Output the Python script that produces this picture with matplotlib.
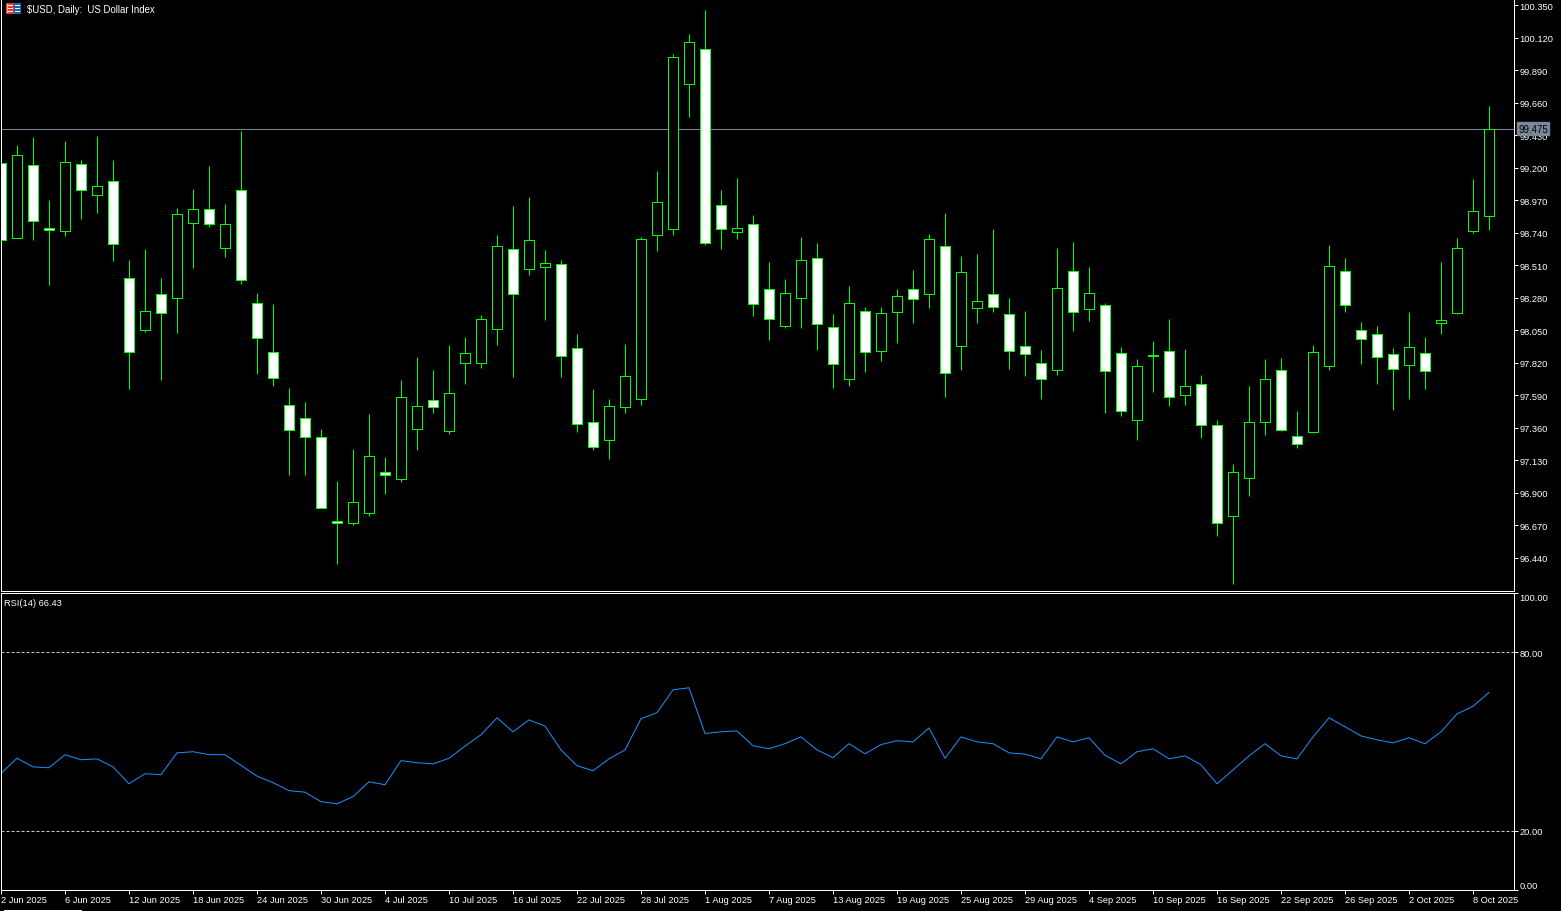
# USD index daily chart with RSI panel
import matplotlib
matplotlib.use('Agg')
import matplotlib.pyplot as plt
from matplotlib.patches import Rectangle
from matplotlib.transforms import IdentityTransform

plt.rcParams['font.family'] = ['Liberation Sans', 'DejaVu Sans']
plt.rcParams['font.size'] = 6.7

open_prices = [
    99.235, 98.702, 99.221, 98.769, 98.752, 99.228, 99.006, 99.107, 98.415, 98.051,
    98.308, 98.277, 98.808, 98.910, 98.631, 99.038, 98.238, 97.898, 97.522, 97.430,
    97.296, 96.701, 96.685, 96.755, 97.048, 96.996, 97.349, 97.558, 97.336, 97.817,
    97.817, 98.058, 98.627, 98.483, 98.497, 98.514, 97.926, 97.402, 97.272, 97.505,
    97.562, 98.723, 98.766, 99.792, 100.042, 98.938, 98.744, 98.797, 98.337, 98.079,
    98.277, 98.563, 98.068, 97.704, 98.188, 97.902, 98.178, 98.344, 98.305, 98.648,
    97.937, 98.206, 98.308, 98.167, 97.940, 97.820, 97.768, 98.471, 98.199, 98.230,
    97.891, 97.414, 97.873, 97.905, 97.591, 97.671, 97.381, 96.734, 97.003, 97.400,
    97.770, 97.303, 97.329, 97.796, 98.471, 98.053, 98.025, 97.877, 97.803, 97.891,
    98.100, 98.171, 98.751, 98.857]
close_prices = [
    98.688, 99.291, 98.822, 98.759, 99.242, 99.042, 99.072, 98.660, 97.895, 98.188,
    98.171, 98.868, 98.910, 98.804, 98.804, 98.404, 97.994, 97.711, 97.343, 97.293,
    96.790, 96.687, 96.836, 97.161, 97.024, 97.579, 97.515, 97.505, 97.607, 97.884,
    98.131, 98.648, 98.305, 98.684, 98.521, 97.867, 97.385, 97.222, 97.515, 97.728,
    98.691, 98.953, 99.985, 100.092, 98.666, 98.766, 98.775, 98.235, 98.129, 98.315,
    98.549, 98.093, 97.810, 98.238, 97.895, 98.174, 98.294, 98.270, 98.691, 97.746,
    98.464, 98.259, 98.213, 97.902, 97.881, 97.704, 98.351, 98.178, 98.315, 97.760,
    97.477, 97.792, 97.869, 97.576, 97.657, 97.378, 96.685, 97.048, 97.402, 97.707,
    97.343, 97.244, 97.898, 98.506, 98.228, 97.987, 97.860, 97.775, 97.933, 97.760,
    98.124, 98.634, 98.896, 99.475]
high_prices = [
    99.235, 99.357, 99.414, 98.969, 99.386, 99.251, 99.421, 99.251, 98.544, 98.622,
    98.417, 98.912, 99.047, 99.209, 98.941, 99.456, 98.310, 98.233, 97.638, 97.539,
    97.348, 96.979, 97.206, 97.454, 97.149, 97.695, 97.857, 97.765, 97.942, 97.999,
    98.155, 98.721, 98.926, 98.990, 98.615, 98.544, 98.020, 97.631, 97.560, 97.949,
    98.707, 99.173, 100.002, 100.143, 100.313, 99.039, 99.124, 98.862, 98.530, 98.409,
    98.707, 98.664, 98.162, 98.360, 98.211, 98.211, 98.339, 98.473, 98.728, 98.877,
    98.572, 98.586, 98.763, 98.275, 98.183, 97.907, 98.629, 98.671, 98.494, 98.239,
    97.928, 97.843, 97.971, 98.126, 97.914, 97.730, 97.412, 97.100, 97.652, 97.843,
    97.850, 97.475, 97.942, 98.650, 98.558, 98.105, 98.077, 97.921, 98.176, 97.999,
    98.530, 98.700, 99.117, 99.634]
low_prices = [
    98.688, 98.702, 98.688, 98.367, 98.716, 98.834, 98.877, 98.537, 97.631, 98.034,
    97.695, 98.027, 98.487, 98.778, 98.565, 98.378, 97.737, 97.652, 97.022, 97.022,
    96.790, 96.393, 96.668, 96.732, 96.888, 96.973, 97.199, 97.461, 97.312, 97.666,
    97.779, 97.942, 97.716, 98.438, 98.119, 97.716, 97.326, 97.199, 97.135, 97.461,
    97.517, 98.608, 98.721, 99.556, 98.650, 98.622, 98.693, 98.148, 97.978, 98.063,
    98.063, 97.907, 97.638, 97.652, 97.751, 97.829, 97.956, 98.098, 98.204, 97.574,
    97.765, 98.098, 98.176, 97.772, 97.723, 97.560, 97.730, 98.041, 98.112, 97.461,
    97.440, 97.270, 97.610, 97.511, 97.518, 97.284, 96.591, 96.251, 96.874, 97.305,
    97.334, 97.213, 97.320, 97.765, 98.176, 97.808, 97.666, 97.482, 97.560, 97.631,
    98.020, 98.162, 98.735, 98.756]
rsi_values = [
    39.2, 44.3, 41.4, 41.1, 45.5, 43.8, 44.1, 41.4, 35.7, 39.1,
    38.8, 46.1, 46.5, 45.5, 45.5, 41.9, 38.3, 36.1, 33.4, 32.9,
    29.7, 29.0, 31.4, 36.4, 35.4, 43.5, 42.8, 42.4, 44.3, 48.4,
    52.2, 57.9, 53.2, 57.2, 55.1, 47.1, 41.8, 40.1, 44.1, 47.1,
    57.6, 59.6, 67.3, 68.0, 52.6, 53.2, 53.5, 48.5, 47.5, 49.2,
    51.5, 47.1, 44.5, 49.2, 45.8, 48.9, 50.2, 49.8, 54.5, 44.3,
    51.5, 49.8, 49.2, 46.1, 45.7, 44.1, 51.5, 49.8, 51.2, 45.3,
    42.4, 46.5, 47.5, 44.1, 45.1, 42.1, 35.7, 40.4, 45.1, 49.2,
    45.1, 44.1, 51.5, 57.9, 54.9, 51.8, 50.5, 49.5, 51.2, 49.2,
    53.2, 59.2, 61.8, 66.43]

price_ticks = [96.44, 96.67, 96.90, 97.13, 97.36, 97.59, 97.82, 98.05, 98.28,
               98.51, 98.74, 98.97, 99.20, 99.43, 99.66, 99.89, 100.12, 100.35]
rsi_ticks = [0, 20, 80, 100]
date_positions = list(range(0, 94, 4))
date_labels = ['2 Jun 2025', '6 Jun 2025', '12 Jun 2025', '18 Jun 2025', '24 Jun 2025',
               '30 Jun 2025', '4 Jul 2025', '10 Jul 2025', '16 Jul 2025', '22 Jul 2025',
               '28 Jul 2025', '1 Aug 2025', '7 Aug 2025', '13 Aug 2025', '19 Aug 2025',
               '25 Aug 2025', '29 Aug 2025', '4 Sep 2025', '10 Sep 2025', '16 Sep 2025',
               '22 Sep 2025', '26 Sep 2025', '2 Oct 2025', '8 Oct 2025']
last_price = 99.475

W, H = 1561, 912
GREEN = '#00ff00'
PX = 0.72

fig = plt.figure(figsize=(W / 100, H / 100), dpi=100, facecolor='black')
ax = fig.add_axes([1 / W, (H - 592) / H, 1513 / W, 592 / H], facecolor='black')
ax2 = fig.add_axes([1 / W, (H - 891) / H, 1513 / W, 297.4 / H], facecolor='black')

# candles
xs = list(range(len(open_prices)))
ax.vlines(xs, low_prices, high_prices, color=GREEN, lw=PX, zorder=2)
bottoms = [min(o, c) for o, c in zip(open_prices, close_prices)]
heights = [abs(o - c) for o, c in zip(open_prices, close_prices)]
fills = ['white' if c < o else 'black' for o, c in zip(open_prices, close_prices)]
ax.bar(xs, heights, bottom=bottoms, width=0.625, color=fills, edgecolor=GREEN,
       linewidth=PX, zorder=3)
ax.axhline(last_price, color='#778899', lw=PX, zorder=1)

ax.set_xlim(0, 94.56)
ax.set_ylim(96.203, 100.393)
ax.set_yticks(price_ticks)
ax.set_yticklabels(['%.3f' % p for p in price_ticks])
ax.set_xticks([])
ax.text(1.0027, last_price, '%.3f' % last_price, transform=ax.get_yaxis_transform(),
        color='black', va='center', ha='left', zorder=6, clip_on=False, fontsize=7,
        bbox=dict(facecolor='#778899', edgecolor='#778899', pad=1.1))

# rsi panel
ax2.plot(xs, rsi_values, color='#1e90ff', lw=PX)
for level in [80, 20]:
    ax2.axhline(level, color='#c8c8c8', lw=PX, ls=(0, (3, 2)))
ax2.set_xlim(0, 94.56)
ax2.set_ylim(0, 100)
ax2.set_yticks(rsi_ticks)
ax2.set_yticklabels(['%.2f' % v for v in rsi_ticks])
ax2.set_xticks(date_positions)
ax2.set_xticklabels(date_labels, ha='left')
ax2.text(3 / 1513, (891 - 603) / 297.4, 'RSI(14) %.2f' % rsi_values[-1],
         transform=ax2.transAxes, color='white', va='center', ha='left')

for a in (ax, ax2):
    a.yaxis.tick_right()
    a.tick_params(axis='both', colors='white', width=PX, length=2.6, pad=1.5, labelsize=6.7)
    for side in a.spines:
        a.spines[side].set_color('white')
        a.spines[side].set_linewidth(PX)
ax.spines['top'].set_visible(False)
ax2.tick_params(axis='x', pad=0.8)

for tick in ax2.yaxis.get_major_ticks():
    pos = tick.get_loc()
    if pos == 100:
        tick.label2.set_verticalalignment('top')
    elif pos == 0:
        tick.label2.set_verticalalignment('bottom')

ax.text(26 / 1513, (592 - 10) / 592, '$USD, Daily:  US Dollar Index',
        transform=ax.transAxes, color='white', va='center', ha='left', fontsize=6.95)


# small pieces outside the scales, given in image pixels
def px_rect(x0, y0, x1, y1, color):
    fig.add_artist(Rectangle((x0, H - y1), x1 - x0, y1 - y0, facecolor=color, edgecolor='none',
                             transform=IdentityTransform(), antialiased=False))


# header icon
px_rect(6, 4, 14, 15, '#e8392f')
px_rect(14, 4, 21, 15, '#1167b1')
for y in (6, 9, 12):
    px_rect(8, y, 13, y + 1, 'white')
    px_rect(15, y, 20, y + 1, 'white')
px_rect(7, 5, 8, 14, '#f4b0a8')
px_rect(4, 910.5, 82, 912, 'white')

fig.savefig('out.png', dpi=100, facecolor='black')
